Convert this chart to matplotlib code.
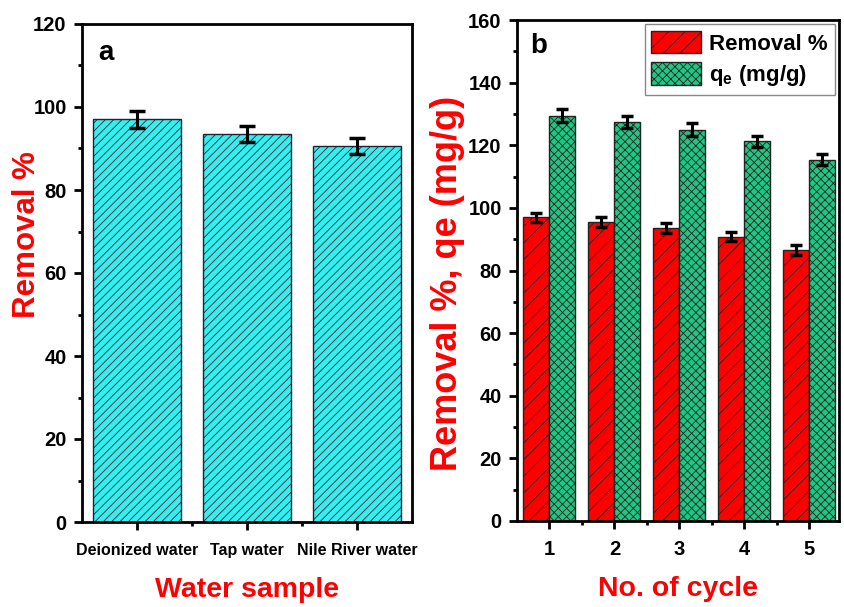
import matplotlib
matplotlib.use('Agg')
import matplotlib.pyplot as plt
import numpy as np
from matplotlib.ticker import MultipleLocator, FixedLocator

plt.rcParams['font.family'] = ['Liberation Sans', 'DejaVu Sans']
plt.rcParams['font.weight'] = 'bold'
plt.rcParams['hatch.linewidth'] = 0.6

# panel a data
samples = ['Deionized water', 'Tap water', 'Nile River water']
removal_a = [97.0, 93.5, 90.6]
err_a = [2.0, 2.0, 2.0]

# panel b data
cycles = [1, 2, 3, 4, 5]
removal_b = [97.0, 95.5, 93.6, 90.8, 86.5]
err_rem_b = [1.5, 1.5, 1.5, 1.5, 1.5]
qe_b = [129.5, 127.4, 125.0, 121.2, 115.4]
err_qe_b = [2.0, 2.0, 2.0, 1.8, 1.8]

fig = plt.figure(figsize=(8.44, 6.07), dpi=100)
ax1 = fig.add_axes([82/844, 1-522/607, 330/844, 498/607])
ax2 = fig.add_axes([517/844, 1-521/607, 322/844, 501/607])

red = '#ff0000'
cyan = '#33f0f0'
green = '#1fc784'

def style_axes(ax):
    for sp in ax.spines.values():
        sp.set_linewidth(2)
    ax.tick_params(which='major', direction='out', width=2, length=6, pad=5)
    ax.tick_params(which='minor', direction='out', width=2, length=3)

# Panel a
x = np.arange(len(samples))
ax1.bar(x, removal_a, width=0.8, color=cyan, edgecolor='#222233', linewidth=1, hatch='////')
ax1.errorbar(x, removal_a, yerr=err_a, fmt='none', ecolor='black', elinewidth=2.2,
             capsize=6, capthick=2.5)
ax1.set_xlim(-0.5, 2.5)
ax1.set_ylim(0, 120)
ax1.set_xticks(x)
ax1.set_xticklabels(samples, fontsize=11.5, fontweight='bold')
ax1.xaxis.set_minor_locator(FixedLocator([0.5, 1.5]))
ax1.yaxis.set_major_locator(MultipleLocator(20))
ax1.yaxis.set_minor_locator(MultipleLocator(10))
style_axes(ax1)
ax1.tick_params(axis='x', which='major', pad=9)
for lab in ax1.get_yticklabels():
    lab.set_fontsize(14.5)
    lab.set_fontweight('bold')
ax1.set_ylabel('Removal %', color=red, fontsize=22.5, fontweight='bold')
ax1.yaxis.set_label_coords(-0.122, 0.578)
ax1.set_xlabel('Water sample', color=red, fontsize=20.5, fontweight='bold')
ax1.xaxis.set_label_coords(0.5, -0.11)
ax1.text(0.05, 0.928, 'a', transform=ax1.transAxes, fontsize=20, fontweight='bold',
         va='baseline', ha='left')

# Panel b
xb = np.array(cycles)
w = 0.4
ax2.bar(xb - w/2, removal_b, width=w, color=red, edgecolor='#222222', linewidth=1,
        hatch='//', label='Removal %')
ax2.bar(xb + w/2, qe_b, width=w, color=green, edgecolor='#222222', linewidth=1,
        hatch='xxxx', label='q$_\\mathregular{e}$ (mg/g)')
ax2.errorbar(xb - w/2, removal_b, yerr=err_rem_b, fmt='none', ecolor='black',
             elinewidth=2.2, capsize=4, capthick=2.5)
ax2.errorbar(xb + w/2, qe_b, yerr=err_qe_b, fmt='none', ecolor='black',
             elinewidth=2.2, capsize=4, capthick=2.5)
ax2.set_xlim(0.5, 5.46)
ax2.set_ylim(0, 160)
ax2.set_xticks(xb)
ax2.xaxis.set_minor_locator(FixedLocator([1.5, 2.5, 3.5, 4.5]))
ax2.yaxis.set_major_locator(MultipleLocator(20))
ax2.yaxis.set_minor_locator(MultipleLocator(10))
style_axes(ax2)
ax2.tick_params(axis='x', which='major', pad=8)
for lab in ax2.get_xticklabels() + ax2.get_yticklabels():
    lab.set_fontsize(14.5)
    lab.set_fontweight('bold')
ax2.set_ylabel('Removal %, qe (mg/g)', color=red, fontsize=26, fontweight='bold')
ax2.yaxis.set_label_coords(-0.163, 0.475)
ax2.set_xlabel('No. of cycle', color=red, fontsize=20.5, fontweight='bold')
ax2.xaxis.set_label_coords(0.5, -0.11)
ax2.text(0.04, 0.934, 'b', transform=ax2.transAxes, fontsize=20, fontweight='bold',
         va='baseline', ha='left')
leg = ax2.legend(loc='upper right', fontsize=16, fancybox=False, edgecolor='#888888',
                 framealpha=1, handlelength=2.25, handleheight=1.15,
                 borderaxespad=0.2, labelspacing=0.35, handletextpad=0.35,
                 borderpad=0.3)
leg.get_frame().set_linewidth(1)

fig.savefig('out.png', dpi=100)
